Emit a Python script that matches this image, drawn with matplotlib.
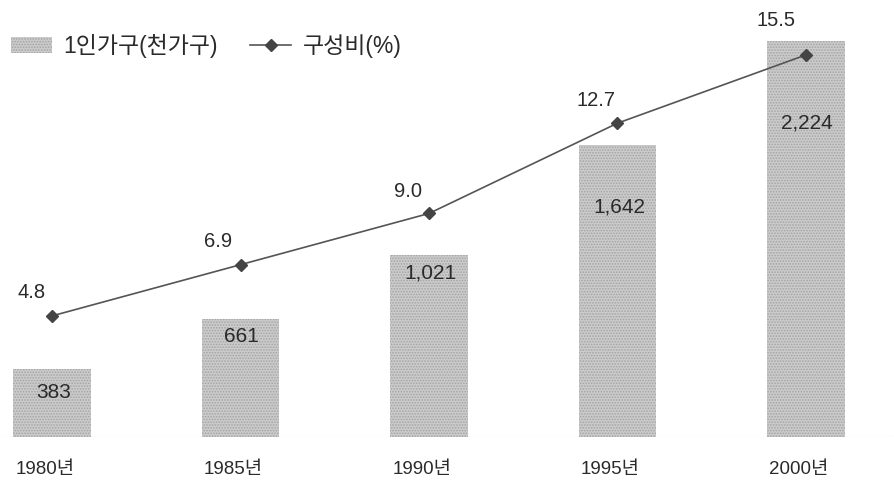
import matplotlib
matplotlib.use("Agg")
import matplotlib.pyplot as plt
from matplotlib.patches import Patch
from matplotlib.lines import Line2D
from matplotlib.transforms import ScaledTranslation

plt.rcParams['font.family'] = ['Liberation Sans', 'Noto Sans CJK KR']
plt.rcParams['hatch.linewidth'] = 0.8

# 데이터
years = ['1980년', '1985년', '1990년', '1995년', '2000년']
households = [383, 661, 1021, 1642, 2224]       # 1인가구(천가구)
ratio = [4.8, 6.9, 9.0, 12.7, 15.5]             # 구성비(%)

# 라벨 위치 (픽셀 오프셋)
bar_lab_dy = [-24, -17, -18, -62, -82]
line_lab_off = [(-20, 23), (-22, 23), (-21, 22), (-21, 23), (-30, 34)]

fig = plt.figure(figsize=(8.94, 4.83), dpi=100)
ax = fig.add_axes([0, 46 / 483, 1, 437 / 483])
x = range(len(years))

bars = ax.bar(x, households, width=0.41, color='#cbcbcb', edgecolor='#a4a4a4',
              hatch='......', linewidth=0, zorder=2)
ax.set_xlim(-0.276, 4.467)
ax.set_ylim(0, 2455)
ax.axhline(0, color='#9a9a9a', lw=0.8, ls=':', zorder=1)

for i, v in enumerate(households):
    ax.annotate(f'{v:,}', (i, v), xytext=(1, bar_lab_dy[i] * 0.72),
                textcoords='offset points', ha='center', va='center',
                fontsize=15, color='#2a2a2a', zorder=4)

ax.set_xticks(list(x))
ax.set_xticklabels(years, fontsize=13.5, color='#2a2a2a')
ax.tick_params(axis='x', length=0, pad=17)
shift = ScaledTranslation(-7 / 100, 0, fig.dpi_scale_trans)
for lab in ax.get_xticklabels():
    lab.set_transform(lab.get_transform() + shift)
ax.set_yticks([])
for s in ax.spines.values():
    s.set_visible(False)

ax2 = ax.twinx()
ax2.plot(list(x), ratio, color='#555555', lw=1.2, marker='D', ms=6.5,
         mfc='#444444', mec='#444444', zorder=5)
ax2.set_ylim(-0.164, 17.75)
ax2.set_yticks([])
for s in ax2.spines.values():
    s.set_visible(False)

for i, v in enumerate(ratio):
    dx, dy = line_lab_off[i]
    ax2.annotate(f'{v:.1f}', (i, v), xytext=(dx * 0.72, dy * 0.72),
                 textcoords='offset points', ha='center', va='center',
                 fontsize=14.5, color='#2a2a2a')

handles = [Patch(facecolor='#cbcbcb', edgecolor='#a4a4a4', hatch='......', linewidth=0),
           Line2D([], [], color='#555555', lw=1.2, marker='D', ms=6.5,
                  mfc='#444444', mec='#444444')]
fig.legend(handles, ['1인가구(천가구)', '구성비(%)'], ncol=2, frameon=False,
           loc='center left', bbox_to_anchor=(0.012, 1 - 46 / 483),
           prop={'family': ['Liberation Sans', 'Noto Sans CJK KR'], 'size': 16.5},
           handlelength=1.8, handleheight=0.75, handletextpad=0.5,
           columnspacing=1.4, borderpad=0, borderaxespad=0,
           labelcolor='#2a2a2a')

fig.savefig('out.png', dpi=100)
